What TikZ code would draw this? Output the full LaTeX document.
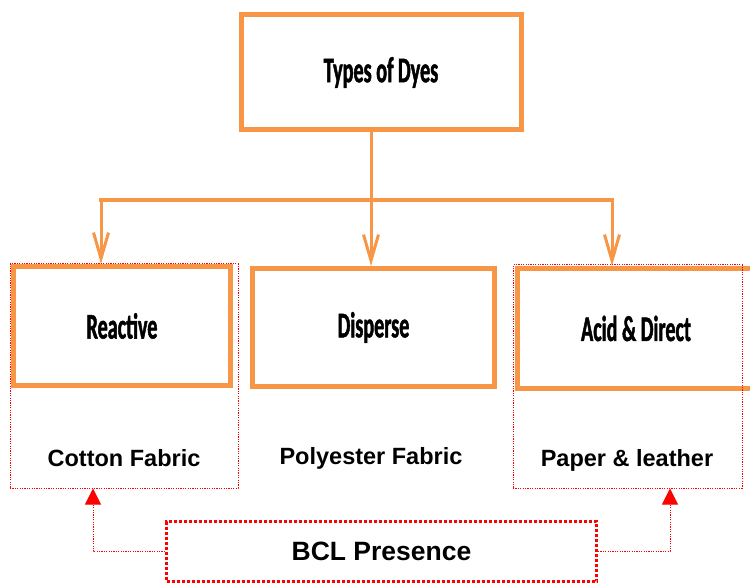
\documentclass[tikz,border=0pt]{standalone}
\usepackage{fontspec}
\setmainfont{Liberation Sans}
\newfontfamily\narrowfont{Carlito}[FakeStretch=0.56, FakeBold=1.3]
\usetikzlibrary{arrows.meta}

\definecolor{dyeorange}{HTML}{F79646}
\definecolor{bclred}{HTML}{FF0000}

\begin{document}
\begin{tikzpicture}[x=1pt, y=1pt,
    dyebox/.style={draw=dyeorange, line width=5pt, inner sep=0pt,
        font=\narrowfont\bfseries\fontsize{36}{40}\selectfont},
    usebox/.style={draw=bclred, line width=1pt, dash pattern=on 1.2pt off 1.2pt, inner sep=0pt},
    usetext/.style={font=\bfseries\fontsize{23.5}{28}\selectfont, anchor=base},
    dyeline/.style={draw=dyeorange, line width=3pt},
    dyelink/.style={dyeline, -{Straight Barb[length=26pt,width=15pt]}},
    bcllink/.style={draw=bclred, line width=1pt, dash pattern=on 1.2pt off 1.2pt,
        -{Triangle[length=16pt,width=16pt]}}]

    \useasboundingbox (0,0) rectangle (750,-585);

    % dye classes
    \node[dyebox, minimum width=280pt, minimum height=115pt] (dyes) at (381,-72.5) {Types of Dyes};
    \node[dyebox, minimum width=217pt, minimum height=119pt] (reactive) at (122,-326) {Reactive};
    \node[dyebox, minimum width=242pt, minimum height=118pt] (disperse) at (373.5,-327.5) {Disperse};
    \node[dyebox, minimum width=237pt, minimum height=120pt] (acid) at (636,-328.5) {Acid \& Direct};

    % tree from the top box
    \coordinate (split) at (371,-200);
    \coordinate (barL) at (101,-200);
    \coordinate (barR) at (612,-200);
    \draw[dyeline] ([xshift=-10pt]dyes.south) -- (split);
    \draw[dyeline, line width=4.5pt, line cap=rect] (barL) -- (barR);
    \draw[dyelink] (barL) -- (barL |- reactive.north);
    \draw[dyelink] (split) -- (split |- disperse.north);
    \draw[dyelink] (barR) -- (barR |- acid.north);

    % fabrics
    \node[usetext] (cotton) at (124,-466) {Cotton Fabric};
    \node[usetext] (polyester) at (371,-464) {Polyester Fabric};
    \node[usetext] (paper) at (627,-466) {Paper \& leather};

    % dotted groups where BCL is found
    \node[usebox, minimum width=228pt, minimum height=224pt] (reactivegrp) at (124,-376) {};
    \node[usebox, minimum width=229pt, minimum height=223pt] (acidgrp) at (627.5,-376.5) {};

    \node[draw=bclred, line width=3pt, dash pattern=on 3pt off 2pt, inner sep=0pt,
        minimum width=430pt, minimum height=60pt,
        font=\bfseries\fontsize{26.5}{30}\selectfont] (bcl) at (381.5,-551.5) {BCL Presence};

    \draw[bcllink] (bcl.west) -| ([xshift=-31pt]reactivegrp.south);
    \draw[bcllink] (bcl.east) -| ([xshift=42.5pt]acidgrp.south);

\end{tikzpicture}
\end{document}
